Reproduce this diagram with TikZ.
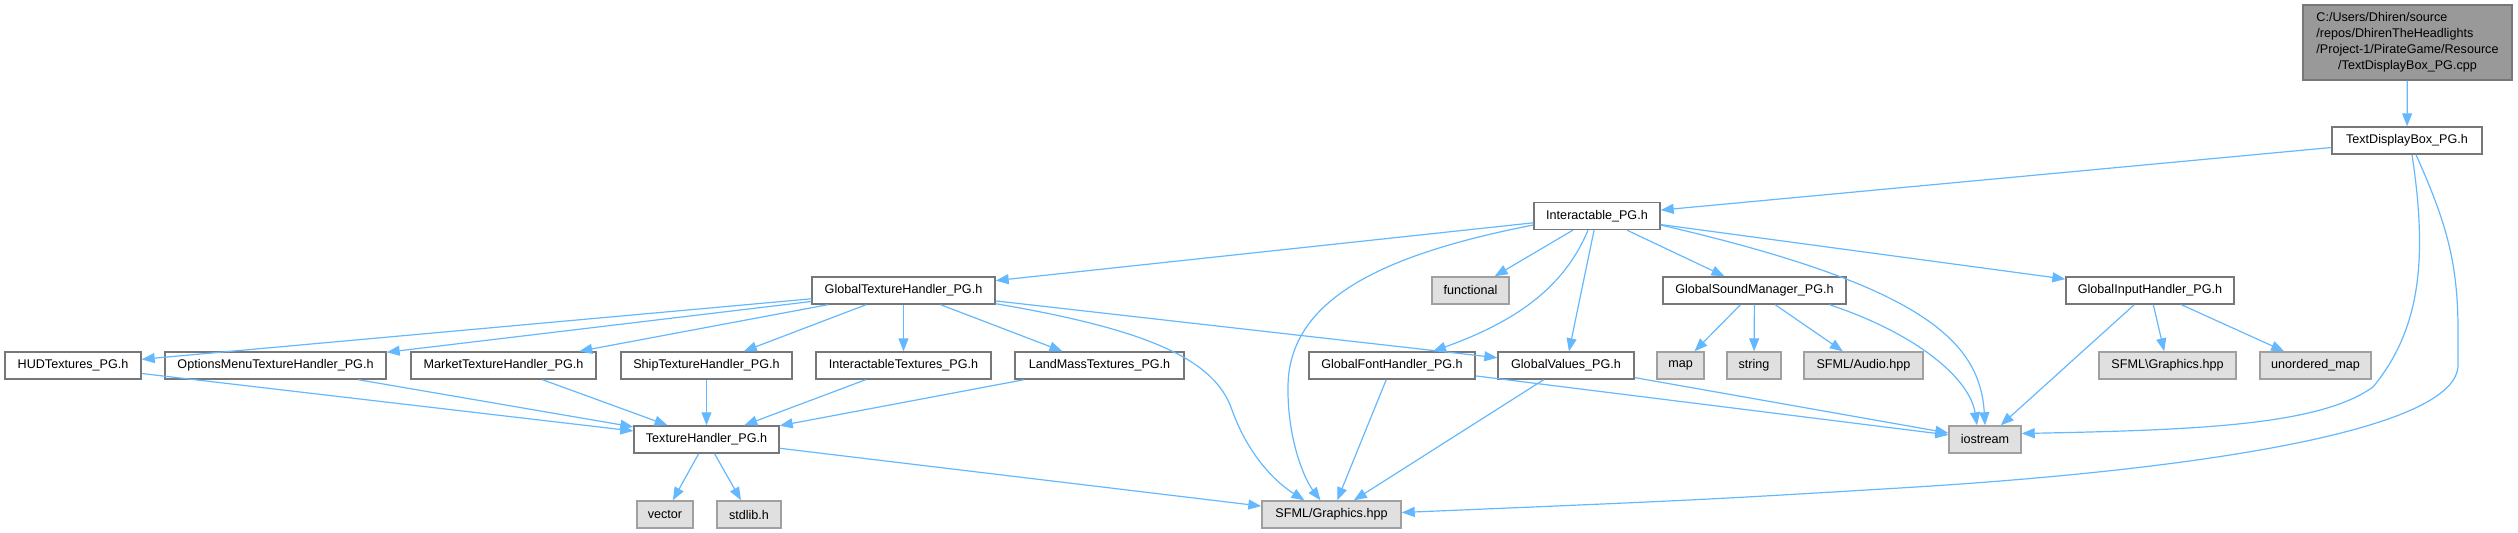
\documentclass[tikz,border=0pt]{standalone}
\usepackage{fontspec}
\setmainfont{Liberation Sans}
\usepackage{xcolor}
\usepackage{tikz}
\usetikzlibrary{arrows.meta,calc}
\definecolor{Edge}{HTML}{63B8FF}
\definecolor{Frame}{HTML}{777777}
\definecolor{ExtD}{HTML}{A0A0A0}
\definecolor{ExtF}{HTML}{E0E0E0}
\definecolor{Root}{HTML}{999999}

\begin{document}
\begin{tikzpicture}[x=0.5pt,y=-0.5pt,font=\fontsize{6.3}{8}\selectfont,
    hdr/.style={draw=Frame,fill=white,line width=0.7pt,minimum height=13.5pt,
      inner sep=0pt},
    sys/.style={hdr,draw=ExtD,fill=ExtF},
    dep/.style={->,Edge,line width=0.6pt},
    >={Triangle[length=6.5pt,width=5pt]}]
  \useasboundingbox (0,0) rectangle (2518,533);
  % files
  \node[hdr,fill=Root,minimum width=104.5pt,minimum height=37.5pt] (src) at (2407.5,42.5)
       {\begin{tabular}{@{}l@{}}C:/Users/Dhiren/source\\/repos/DhirenTheHeadlights\\
        /Project-1/PirateGame/Resource\\\multicolumn{1}{@{}c@{}}{/TextDisplayBox\_PG.cpp}\end{tabular}};
  \node[hdr,minimum width=75pt] (tdb) at (2407,140.5) {TextDisplayBox\_PG.h};
  \node[hdr,minimum width=63pt] (inter) at (1597,216) {Interactable\_PG.h};
  \node[hdr,minimum width=91.5pt] (gtex) at (903.5,290.5) {GlobalTextureHandler\_PG.h};
  \node[sys,minimum width=38.5pt] (func) at (1470.5,290.5) {functional};
  \node[hdr,minimum width=91.5pt] (gsnd) at (1754.5,290.5) {GlobalSoundManager\_PG.h};
  \node[hdr,minimum width=84pt] (ginp) at (2150,290.5) {GlobalInputHandler\_PG.h};
  \node[hdr,minimum width=68pt] (hud) at (73,365.5) {HUDTextures\_PG.h};
  \node[hdr,minimum width=110.5pt] (opts) at (275.5,365.5) {OptionsMenuTextureHandler\_PG.h};
  \node[hdr,minimum width=92.5pt] (mkt) at (503.5,365.5) {MarketTextureHandler\_PG.h};
  \node[hdr,minimum width=85.5pt] (ship) at (706.5,365.5) {ShipTextureHandler\_PG.h};
  \node[hdr,minimum width=87.5pt] (itex) at (903.5,365.5) {InteractableTextures\_PG.h};
  \node[hdr,minimum width=84.5pt] (land) at (1099.5,365.5) {LandMassTextures\_PG.h};
  \node[hdr,minimum width=83pt] (gfont) at (1392,365.5) {GlobalFontHandler\_PG.h};
  \node[hdr,minimum width=68pt] (gval) at (1566,365.5) {GlobalValues\_PG.h};
  \node[sys,minimum width=23.5pt] (map) at (1680.5,365.5) {map};
  \node[sys,minimum width=27pt] (str) at (1754,365.5) {string};
  \node[sys,minimum width=59.5pt] (audio) at (1863.5,365.5) {SFML/Audio.hpp};
  \node[sys,minimum width=68.5pt] (sfmlbs) at (2167.5,365.5) {SFML\textbackslash Graphics.hpp};
  \node[sys,minimum width=55.5pt] (umap) at (2315.5,365.5) {unordered\_map};
  \node[hdr,minimum width=72.5pt] (tex) at (706.5,439.5) {TextureHandler\_PG.h};
  \node[sys,minimum width=36pt] (iostr) at (1985,439.5) {iostream};
  \node[sys,minimum width=28pt] (vec) at (665,514.5) {vector};
  \node[sys,minimum width=32pt] (stdl) at (749,514.5) {stdlib.h};
  \node[sys,minimum width=69.5pt] (sfml) at (1331.5,514.5) {SFML/Graphics.hpp};
  % includes
  \draw[dep] (src) -- (tdb);
  \draw[dep] (tdb) -- (inter);
  \draw[dep] ([shift={(5,0)}]tdb.south) .. controls (2428,260) and (2420,330) .. (2373,387)
       .. controls (2320,425) and (2200,430) .. ([shift={(0,-6)}]iostr.east);
  \draw[dep] ([shift={(9,0)}]tdb.south) .. controls (2445,220) and (2458,260) .. (2458,330)
       -- (2458,365) .. controls (2458,430) and (2200,470) .. (1900,488)
       .. controls (1700,500) .. ([shift={(0,-2)}]sfml.east);
  \draw[dep] (inter) -- (gtex);
  \draw[dep] (inter) -- (func);
  \draw[dep] ([shift={(0,9)}]inter.west) .. controls (1380,255) and (1290,300) .. (1288,385)
       .. controls (1287,440) and (1305,480) .. ([shift={(-11,0)}]sfml.north);
  \draw[dep] ([shift={(-9,0)}]inter.south) .. controls (1565,285) and (1520,320)
       .. ([shift={(41,0)}]gfont.north);
  \draw[dep] (inter) -- (gval);
  \draw[dep] (inter) -- (gsnd);
  \draw[dep] ([shift={(0,9)}]inter.east) .. controls (1920,285) and (1980,340) .. (iostr.north);
  \draw[dep] (inter) -- (ginp);
  \draw[dep] (gtex) -- (hud);
  \draw[dep] (gtex) -- (opts);
  \draw[dep] (gtex) -- (mkt);
  \draw[dep] (gtex) -- (ship);
  \draw[dep] (gtex) -- (itex);
  \draw[dep] (gtex) -- (land);
  \draw[dep] ([shift={(0,-1)}]gtex.south east) .. controls (1150,330) and (1215,360) .. (1232,410)
       .. controls (1250,460) and (1280,485) .. ([shift={(-27,0)}]sfml.north);
  \draw[dep] (gtex) -- (gval);
  \draw[dep] (hud) -- (tex);
  \draw[dep] (opts) -- (tex);
  \draw[dep] (mkt) -- (tex);
  \draw[dep] (ship) -- (tex);
  \draw[dep] (itex) -- (tex);
  \draw[dep] (land) -- (tex);
  \draw[dep] (tex) -- (vec);
  \draw[dep] (tex) -- (stdl);
  \draw[dep] (tex) -- (sfml);
  \draw[dep] (gfont) -- (sfml);
  \draw[dep] (gfont) -- (iostr);
  \draw[dep] (gval) -- (sfml);
  \draw[dep] (gval) -- (iostr);
  \draw[dep] (gsnd) -- (map);
  \draw[dep] (gsnd) -- (str);
  \draw[dep] (gsnd) -- (audio);
  \draw[dep] ([shift={(75,0)}]gsnd.south) .. controls (1920,335) and (1970,380)
       .. ([shift={(-8,0)}]iostr.north);
  \draw[dep] (ginp) -- (iostr);
  \draw[dep] (ginp) -- (sfmlbs);
  \draw[dep] (ginp) -- (umap);
\end{tikzpicture}
\end{document}
